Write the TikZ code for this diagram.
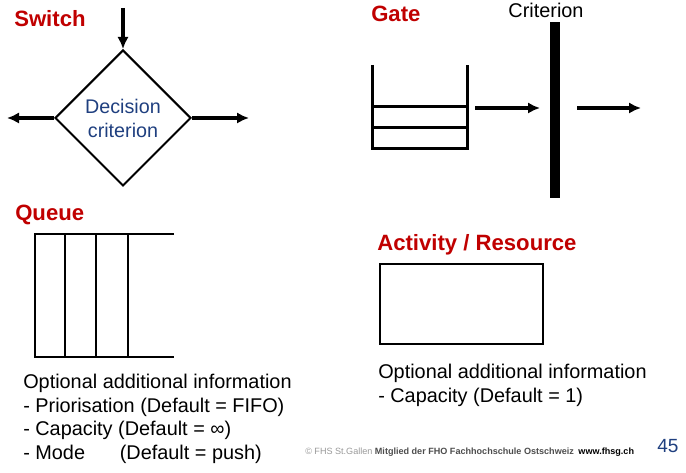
\documentclass[tikz,border=0pt]{standalone}
\usepackage{fontspec}
\setmainfont{Liberation Sans}
\usepackage{tikz}
\usetikzlibrary{positioning}
\usetikzlibrary{shapes.geometric}
\usetikzlibrary{arrows.meta}
\usepackage{xcolor}
\definecolor{fhsred}{HTML}{C00000}
\definecolor{fhsblue}{HTML}{1F3F7F}
\newcommand\bodyfont{\fontsize{14.9}{17.6}\selectfont}

\begin{document}
\begin{tikzpicture}[x=0.75pt, y=-0.75pt,
    title/.style={anchor=base west, inner sep=0, text=fhsred, font=\fontsize{16.6}{19}\selectfont\bfseries},
    info/.style={anchor=north west, inner sep=0, align=left, font=\bodyfont},
    flow/.style={line width=2.4pt, -{Latex[length=9pt, width=8.5pt]}}]
  \useasboundingbox (0,0) rectangle (686,473);
  % switch
  \node[title] (switch) at (14,27) {Switch};
  \node[draw, line width=1.5pt, diamond, aspect=1, minimum width=102pt, minimum height=102pt,
        inner sep=0, align=center, text=fhsblue, font=\fontsize{14.8}{18}\selectfont] (dec) at (123,118) {Decision\\criterion};
  \coordinate (swin) at (123,8);
  \coordinate (swleft) at (7,118);
  \coordinate (swright) at (249,118);
  \draw[flow] (swin) -- (dec.north);
  \draw[flow] (dec.west) -- (swleft);
  \draw[flow] (dec.east) -- (swright);
  % gate
  \node[title] (gate) at (371,22) {Gate};
  \node[anchor=base, inner sep=0, font=\bodyfont] (crit) at (546,18) {Criterion};
  \draw[line width=2.25pt] (372,65) -- (372,149) -- (467,149) -- (467,65);
  \draw[line width=2.25pt] (372,107) -- (467,107) (372,128) -- (467,128);
  \node[fill=black, inner sep=0, minimum width=7.5pt, minimum height=132pt] (bar) at (555,110) {};
  \coordinate (gin) at (475,108);
  \coordinate (gstop) at (540,108);
  \coordinate (gpass) at (577,108);
  \coordinate (gout) at (641,108);
  \draw[flow] (gin) -- (gstop);
  \draw[flow] (gpass) -- (gout);
  % queue
  \node[title] (queue) at (15,221) {Queue};
  \draw[line width=1.5pt] (174,234) -- (35,234) -- (35,357) -- (174,357);
  \foreach \x in {65,96,128}
    \draw[line width=1.5pt] (\x,234) -- (\x,357);
  \node[info] (qinfo) at (23,374) {Optional additional information\\- Priorisation (Default = FIFO)\\- Capacity (Default = ∞)\\- Mode\hspace{1.75em}(Default = push)};
  % activity / resource
  \node[title] (act) at (377,251) {Activity / Resource};
  \node[draw, line width=1.9pt, inner sep=0, minimum width=122.25pt, minimum height=60pt] (res) at (461.5,304) {};
  \node[info] (ainfo) at (378,364) {Optional additional information\\- Capacity (Default = 1)};
  % footer
  \node[anchor=base west, inner sep=0, font=\fontsize{6.8}{8}\selectfont] (foot) at (305,455)
    {\textcolor{black!40}{© FHS St.Gallen} \textcolor{black!70}{\bfseries Mitglied der FHO Fachhochschule Ostschweiz}\hspace{0.5em}\textbf{www.fhsg.ch}};
  \node[anchor=base west, inner sep=0, text=fhsblue, font=\fontsize{14.3}{16}\selectfont] (page) at (657,453) {45};
\end{tikzpicture}
\end{document}
